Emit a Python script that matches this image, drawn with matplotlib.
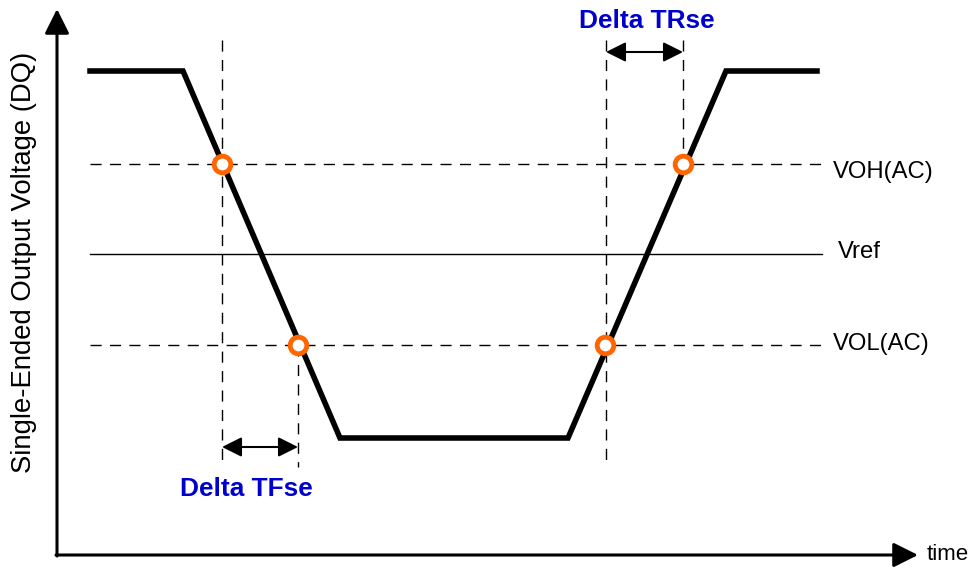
import matplotlib
matplotlib.use("Agg")
import matplotlib.pyplot as plt

plt.rcParams['font.family'] = ['Liberation Sans', 'DejaVu Sans']

# Waveform (time, voltage) in diagram units
wave_t = [90, 183, 340, 568, 726, 817]
wave_v = [71, 71, 438, 438, 71, 71]

# Reference levels
level_names = ["VOH(AC)", "Vref", "VOL(AC)"]
level_v = [164, 254, 345]

# Crossing points
cross_t = [222, 298, 605, 683]
cross_v = [164, 345, 345, 164]

# Vertical guide lines (t, v_start, v_end)
guide_t = [222, 298, 606, 683]
guide_v0 = [40, 345, 40, 40]
guide_v1 = [467, 467, 467, 168]

fig = plt.figure(figsize=(9.71, 5.68), dpi=100)
ax = fig.add_axes([0, 0, 1, 1])
ax.set_xlim(0, 971)
ax.set_ylim(568, 0)
ax.axis('off')

dash = (0, (8, 6))
# level lines
ax.plot([90, 822], [level_v[0]] * 2, color='black', lw=1, linestyle=dash)
ax.plot([90, 822], [level_v[1]] * 2, color='black', lw=1)
ax.plot([90, 822], [level_v[2]] * 2, color='black', lw=1, linestyle=dash)

ax.text(833, level_v[0] + 8, level_names[0], fontsize=17.2, va='center', ha='left')
ax.text(838, level_v[1] - 2, level_names[1], fontsize=17.2, va='center', ha='left')
ax.text(833, level_v[2] - 1, level_names[2], fontsize=17.2, va='center', ha='left')

for t, a, b in zip(guide_t, guide_v0, guide_v1):
    ax.plot([t, t], [a, b], color='black', lw=1, linestyle=dash)

# waveform
ax.plot(wave_t, wave_v, color='black', lw=4, solid_joinstyle='miter', zorder=3)

# crossing markers
ax.plot(cross_t, cross_v, 'o', ms=12, mfc='white', mec='#FF6600', mew=3.5, zorder=4)

# delta arrows
ap = dict(arrowstyle='<|-|>,head_length=0.6,head_width=0.3', color='black', lw=1.5,
          mutation_scale=20, shrinkA=0, shrinkB=0)
ax.annotate('', xy=(298, 447), xytext=(222, 447), arrowprops=ap)
ax.annotate('', xy=(683, 52), xytext=(606, 52), arrowprops=ap)

ax.text(246, 489, "Delta TFse", fontsize=18.9, fontweight='bold', color='#0000CC', ha='center', va='center')
ax.text(647, 21, "Delta TRse", fontsize=18.9, fontweight='bold', color='#0000CC', ha='center', va='center')

# axes
axp = dict(arrowstyle='-|>,head_length=0.6,head_width=0.3', color='black', lw=2.2,
           mutation_scale=25, shrinkA=0, shrinkB=0)
ax.annotate('', xy=(57, 9), xytext=(57, 556), arrowprops=axp)
ax.annotate('', xy=(918, 555), xytext=(56, 555), arrowprops=axp)
ax.text(927, 555, "time", fontsize=16, va='center', ha='left')
ax.text(24, 262, "Single-Ended Output Voltage (DQ)", fontsize=19.8, rotation=90, va='center', ha='center')

fig.savefig("out.png", dpi=100)
